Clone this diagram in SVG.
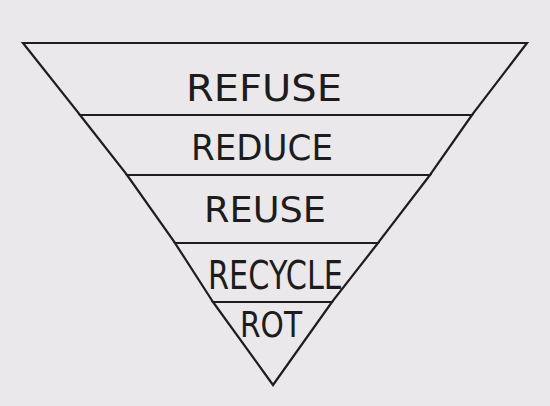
<svg xmlns="http://www.w3.org/2000/svg" width="550" height="406" viewBox="0 0 550 406">
<style>
.band{fill:none;stroke:#1e1e1e;stroke-width:2.2;stroke-linejoin:miter}
.lbl{font-family:"DejaVu Sans","Liberation Sans",sans-serif;fill:#1c1c1c;text-anchor:start}
</style>
<rect width="550" height="406" fill="#ebe8eb"/>
<g id="refuse">
<polygon class="band" points="23,43 527,43 472,115 80,115"/>
<text class="lbl" x="186" y="101" font-size="38" textLength="156" lengthAdjust="spacingAndGlyphs">REFUSE</text>
</g>
<g id="reduce">
<polygon class="band" points="80,115 472,115 430,175 127,175"/>
<text class="lbl" x="191" y="160" font-size="36" textLength="142" lengthAdjust="spacingAndGlyphs">REDUCE</text>
</g>
<g id="reuse">
<polygon class="band" points="127,175 430,175 378,243 175,243"/>
<text class="lbl" x="204" y="222" font-size="35" textLength="122" lengthAdjust="spacingAndGlyphs">REUSE</text>
</g>
<g id="recycle">
<polygon class="band" points="175,243 378,243 332,302 213,302"/>
<text class="lbl" x="208" y="289" font-size="39" textLength="135" lengthAdjust="spacingAndGlyphs">RECYCLE</text>
</g>
<g id="rot">
<polygon class="band" points="213,302 332,302 273,385"/>
<text class="lbl" x="240" y="337" font-size="36" textLength="62" lengthAdjust="spacingAndGlyphs">ROT</text>
</g>
<g id="connectors"></g>
</svg>
